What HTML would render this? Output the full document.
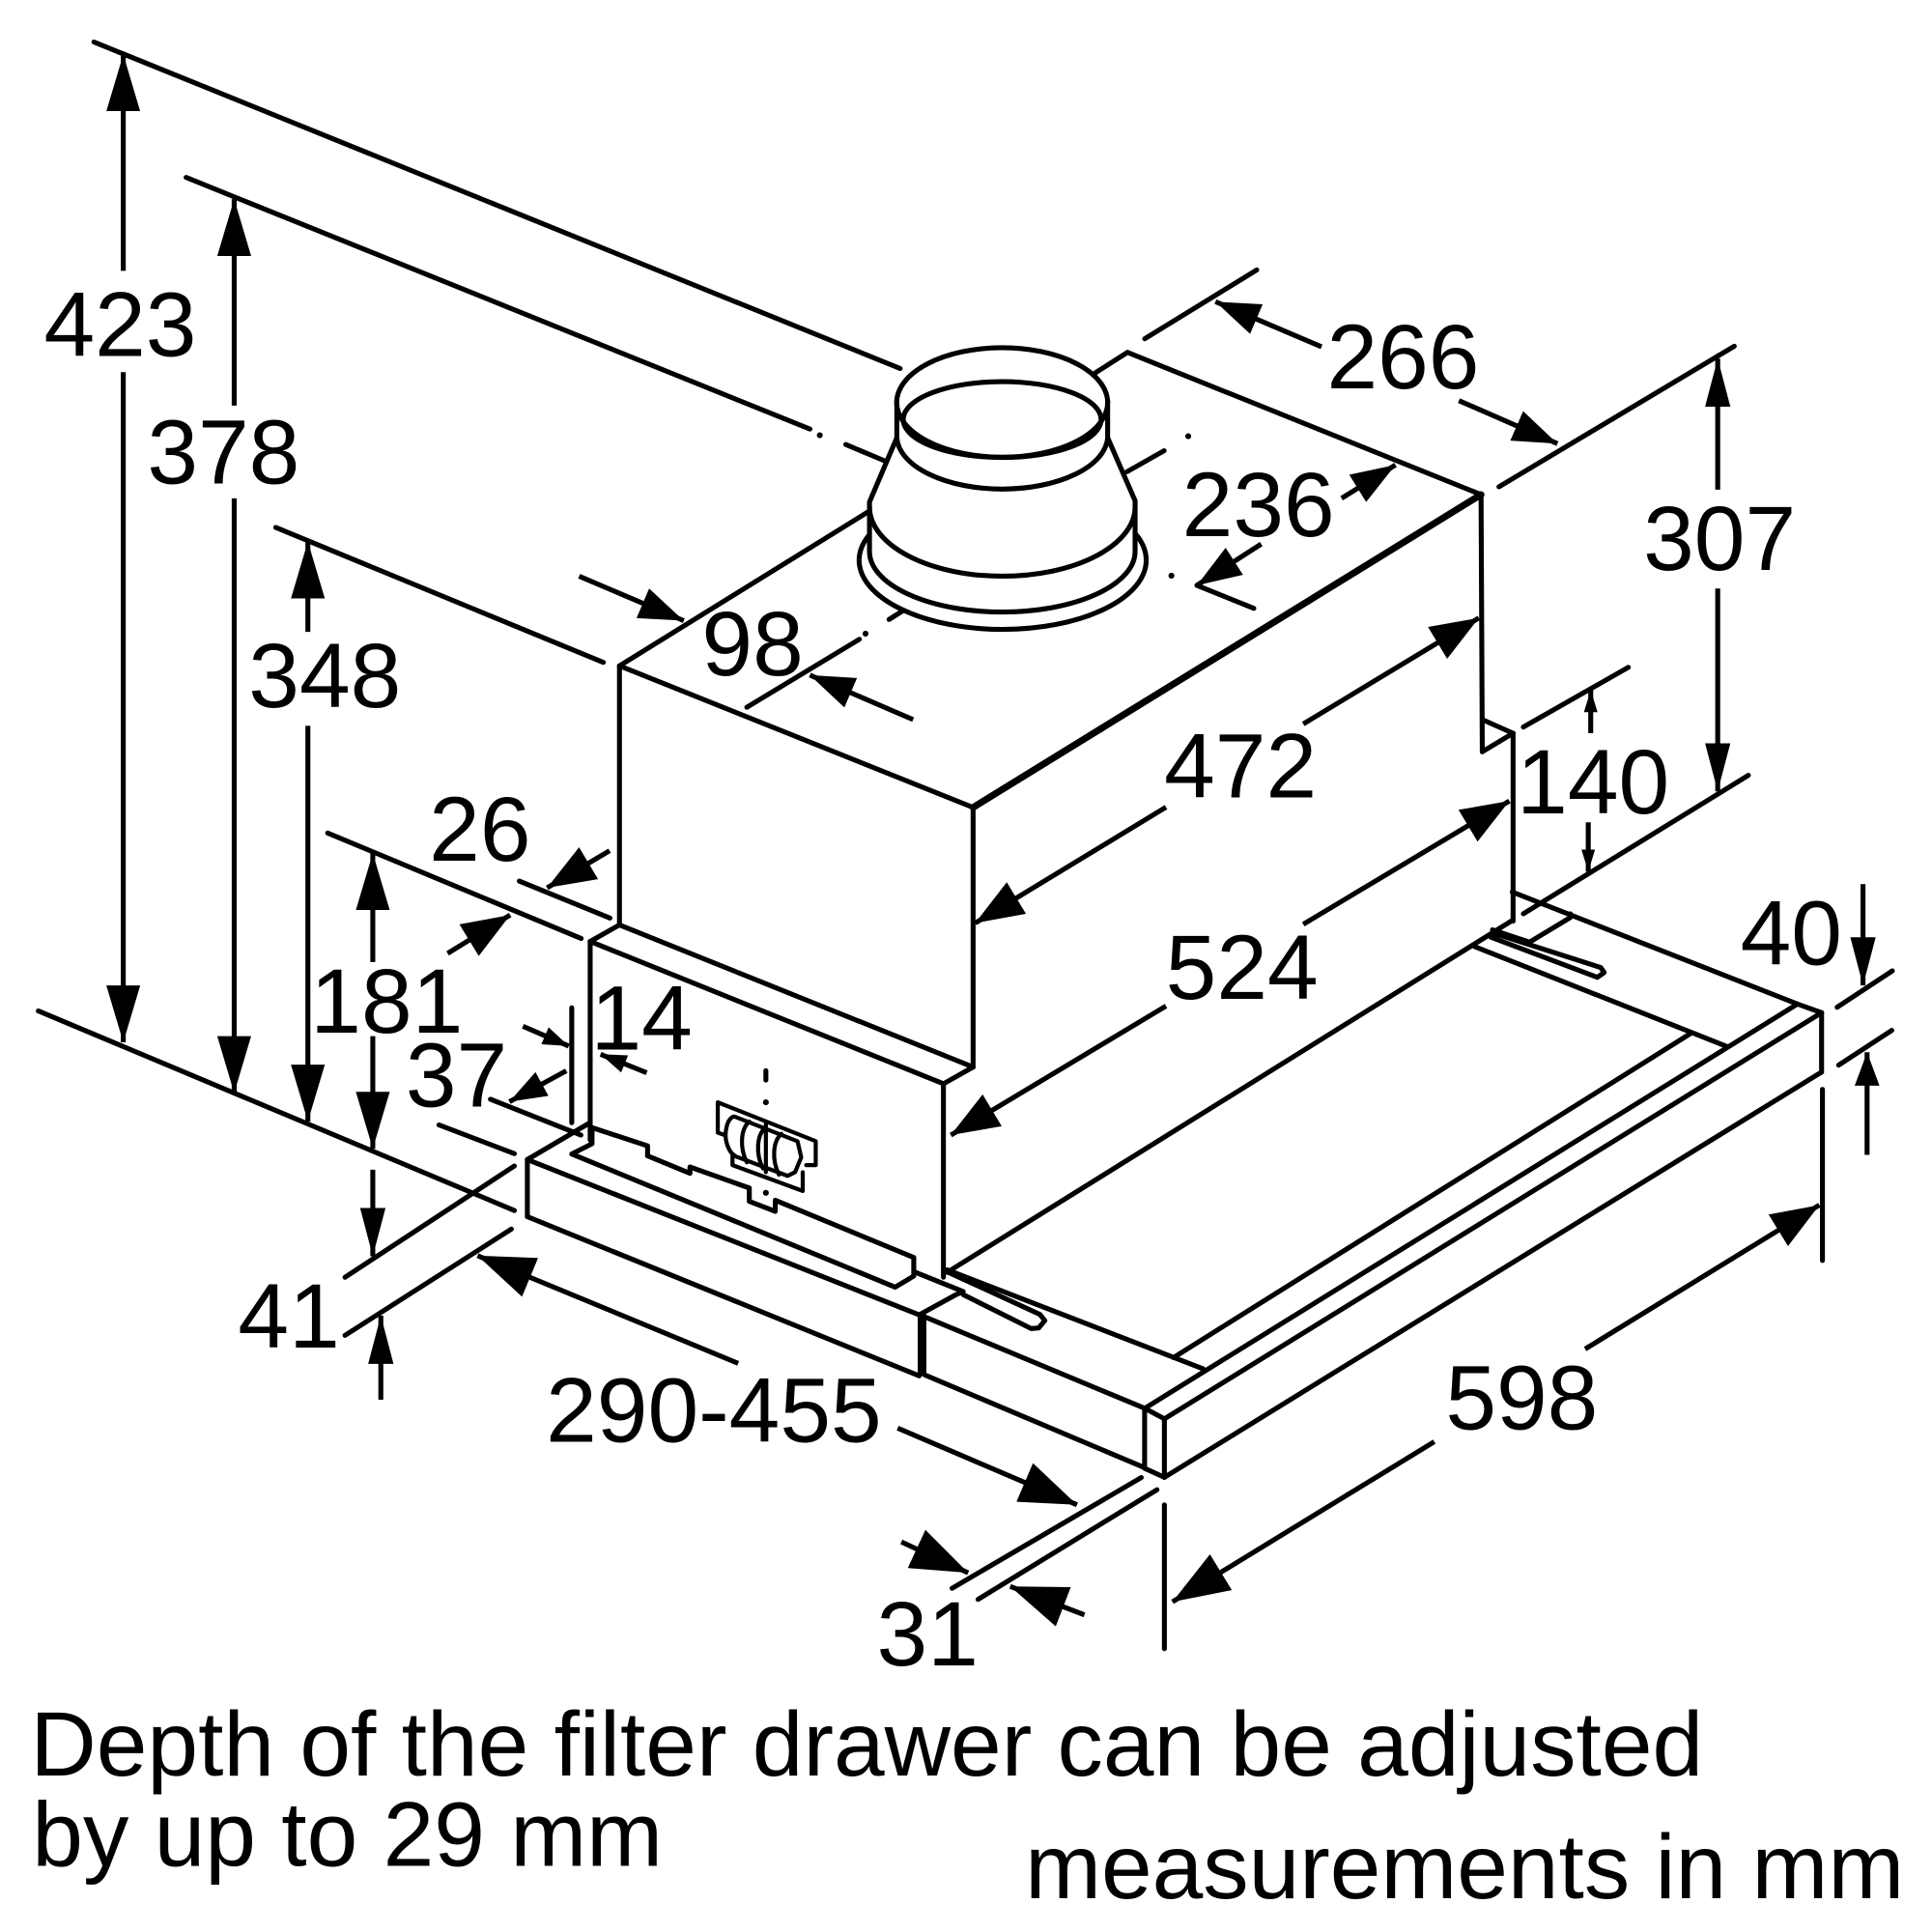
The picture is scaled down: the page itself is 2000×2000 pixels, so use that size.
<!DOCTYPE html>
<html>
<head>
<meta charset="utf-8">
<style>
html,body{margin:0;padding:0;background:#fff;}
svg{display:block;}
.l{stroke:#000;stroke-width:4;fill:none;stroke-linecap:round;stroke-linejoin:round;}
.a{stroke:#000;stroke-width:4;fill:none;stroke-linecap:butt;}
.t{font-family:"Liberation Sans",Arial,sans-serif;font-size:74px;fill:#000;}
</style>
</head>
<body>
<svg width="2000" height="2000" viewBox="0 0 1562.5 1562.5" xmlns="http://www.w3.org/2000/svg">
<defs>
<marker id="mA" markerUnits="userSpaceOnUse" markerWidth="46" markerHeight="27.4" refX="46" refY="13.7" orient="auto"><path d="M0,0 L46,13.7 L0,27.4 Z" fill="#000"/></marker>
<marker id="mB" markerUnits="userSpaceOnUse" markerWidth="39" markerHeight="30" refX="39" refY="15" orient="auto"><path d="M0,0 L39,15 L0,30 Z" fill="#000"/></marker>
<marker id="mC" markerUnits="userSpaceOnUse" markerWidth="39" markerHeight="20.5" refX="39" refY="10.25" orient="auto"><path d="M0,0 L39,10.25 L0,20.5 Z" fill="#000"/></marker>
<marker id="mD" markerUnits="userSpaceOnUse" markerWidth="36" markerHeight="26" refX="36" refY="13" orient="auto"><path d="M0,0 L36,13 L0,26 Z" fill="#000"/></marker>
<marker id="mS" markerUnits="userSpaceOnUse" markerWidth="21" markerHeight="15" refX="21" refY="7.5" orient="auto"><path d="M0,0 L21,7.5 L0,15 Z" fill="#000"/></marker>
<marker id="mT" markerUnits="userSpaceOnUse" markerWidth="18" markerHeight="11" refX="18" refY="5.5" orient="auto"><path d="M0,0 L18,5.5 L0,11 Z" fill="#000"/></marker>
<marker id="mE" markerUnits="userSpaceOnUse" markerWidth="30" markerHeight="22" refX="30" refY="11" orient="auto"><path d="M0,0 L30,11 L0,22 Z" fill="#000"/></marker>
<marker id="mF" markerUnits="userSpaceOnUse" markerWidth="27" markerHeight="20" refX="27" refY="10" orient="auto"><path d="M0,0 L27,10 L0,20 Z" fill="#000"/></marker>
<marker id="mG" markerUnits="userSpaceOnUse" markerWidth="46" markerHeight="34" refX="46" refY="17" orient="auto"><path d="M0,0 L46,17 L0,34 Z" fill="#000"/></marker>
</defs>

<!-- extension / reference lines (left) -->
<line class="l" x1="76" y1="34" x2="728" y2="298"/>
<line class="l" x1="150.5" y1="143.5" x2="655" y2="347"/>
<circle cx="663" cy="352" r="2.4" fill="#000"/>
<line class="l" x1="684" y1="359.5" x2="715" y2="372.5"/>
<line class="l" x1="223" y1="426.6" x2="488" y2="535.7"/>
<line class="l" x1="265" y1="673.7" x2="470" y2="759"/>
<line class="l" x1="420" y1="712.6" x2="493.3" y2="742.5"/>
<line class="l" x1="31" y1="817.6" x2="416" y2="979"/>
<line class="l" x1="355" y1="909.8" x2="416" y2="933"/>
<line class="l" x1="279" y1="1033" x2="416" y2="943"/>
<line class="l" x1="279" y1="1080" x2="413.6" y2="994"/>
<line class="l" x1="396.6" y1="889" x2="469.8" y2="918"/>
<line class="l" x1="462.4" y1="815" x2="462.4" y2="908"/>

<!-- centerlines of duct -->
<line class="l" x1="604" y1="572" x2="695" y2="517"/>
<circle cx="700" cy="512.5" r="2.4" fill="#000"/>
<line class="l" x1="719" y1="501" x2="743.5" y2="485.6"/>
<line class="l" x1="911.5" y1="381.5" x2="941.5" y2="364.5"/>
<circle cx="961" cy="352.8" r="2.4" fill="#000"/>
<circle cx="947.4" cy="465.6" r="2.4" fill="#000"/>
<line class="l" x1="968" y1="473.4" x2="1014" y2="492"/>

<!-- right side extension lines -->
<line class="l" x1="925.8" y1="274" x2="1016.4" y2="218.3"/>
<line class="l" x1="1212.3" y1="393.7" x2="1402.6" y2="280"/>
<line class="l" x1="1232" y1="588" x2="1316.9" y2="539.7"/>
<line class="l" x1="1232" y1="739" x2="1414" y2="627"/>
<line class="l" x1="1485.8" y1="814.6" x2="1530.4" y2="785.2"/>
<line class="l" x1="1487" y1="861.4" x2="1530" y2="833.3"/>
<line class="l" x1="1473.9" y1="881" x2="1473.9" y2="1019.4"/>
<line class="l" x1="941.7" y1="1217" x2="941.7" y2="1333.4"/>
<line class="l" x1="770" y1="1284.5" x2="923" y2="1195"/>
<line class="l" x1="791" y1="1293.5" x2="935.7" y2="1204.8"/>

<!-- upper box -->
<line class="l" x1="501" y1="538.5" x2="787" y2="653"/>
<line class="l" x1="501" y1="538.5" x2="702" y2="414"/>
<line class="l" x1="885.9" y1="301.5" x2="911.8" y2="285"/>
<line class="l" x1="911.8" y1="285" x2="1197.8" y2="400"/>
<line class="l" style="stroke-width:5.5" x1="1197.8" y1="400" x2="787" y2="653"/>
<line class="l" x1="501" y1="538.5" x2="501" y2="748"/>
<line class="l" x1="787" y1="653" x2="787" y2="863"/>
<line class="l" x1="1197.8" y1="400" x2="1198.8" y2="608"/>
<line class="l" x1="1198.8" y1="582" x2="1223.7" y2="593"/>
<line class="l" x1="1198.8" y1="608" x2="1223.7" y2="593"/>
<line class="l" x1="1223.7" y1="593" x2="1223.7" y2="745"/>

<!-- lower front body -->
<line class="l" x1="477.3" y1="761.4" x2="501" y2="748"/>
<line class="l" x1="501" y1="748" x2="787" y2="863"/>
<line class="l" x1="477.3" y1="761.4" x2="763" y2="876.5"/>
<line class="l" x1="763" y1="876.5" x2="787" y2="863"/>
<line class="l" x1="477.3" y1="761.4" x2="477.3" y2="922"/>
<line class="l" x1="763" y1="876.5" x2="763" y2="1033"/>

<!-- control panel -->
<line class="l" x1="619.4" y1="866" x2="619.4" y2="873.5"/>
<circle cx="619.4" cy="891.5" r="2.4" fill="#000"/>
<circle cx="619.4" cy="964.7" r="2.4" fill="#000"/>
<polyline class="l" style="stroke-width:3.3" points="586,918 580.5,916 580.5,891.5 659.7,922.9 659.7,942.3 652,942.3"/>
<polyline class="l" style="stroke-width:3.3" points="592.4,933.3 592.4,942.3 649.2,963.2 649.2,948"/>
<path class="l" style="stroke-width:3.3" d="M594,903 L645,923 L648,936 L643,948 L637,951 L597,936 C590,934 586,924 587,915 C588,907 591,903 594,903 Z"/>
<path class="l" style="stroke-width:3.3" d="M606,907 C599,913 598,928 604,940"/>
<path class="l" style="stroke-width:3.3" d="M619,912 C612,918 611,933 617,945"/>
<path class="l" style="stroke-width:3.3" d="M632,917 C625,923 624,938 630,950"/>
<line class="l" style="stroke-width:3.3" x1="619.4" y1="909" x2="619.4" y2="948"/>

<!-- drawer left section -->
<line class="l" x1="426.5" y1="937.8" x2="475.8" y2="908.8"/>
<line class="l" x1="426.5" y1="937.8" x2="743.4" y2="1063.4"/>
<line class="l" x1="426.5" y1="937.8" x2="426.5" y2="984"/>
<line class="l" x1="426.5" y1="984" x2="743.4" y2="1112.7"/>
<line x1="745.7" y1="1063" x2="745.7" y2="1113" stroke="#000" stroke-width="7"/>
<polyline class="l" points="478.8,912 523.7,926.7 523.7,934.8 558,948.9 558,943.8 606,960.8 606,971.6 627,979.7 627,970.7 739,1017 739,1032 724,1041 462.4,933.3 478.8,925 478.8,912"/>
<polyline class="l" points="743.4,1063.4 773.3,1047 779,1044.5 740.4,1029"/>
<line class="l" x1="748" y1="1065" x2="925.8" y2="1139"/>
<line class="l" x1="748" y1="1112" x2="925.7" y2="1187"/>
<polyline class="l" points="767,1029 841,1063 845,1068 840,1074 834,1074.5 779,1047"/>

<!-- main body top / drawer surface -->
<line class="l" x1="766" y1="1029" x2="1223.7" y2="744"/>
<line class="l" x1="766" y1="1027" x2="973" y2="1107"/>
<line class="l" x1="1192.8" y1="765.6" x2="1396.5" y2="846.3"/>
<line class="l" x1="949" y1="1098" x2="1367" y2="836"/>
<line class="l" x1="1223" y1="721.4" x2="1453.7" y2="812"/>
<polyline class="l" points="1207,752 1237,762 1270,742 1270,739"/>
<polygon class="l" points="1208,754.7 1294.6,782.5 1297.4,786.5 1291.8,790.4 1205.4,757.8"/>

<!-- front bar -->
<line class="l" x1="925.8" y1="1139" x2="1453.7" y2="812"/>
<line class="l" x1="941.7" y1="1147.5" x2="1473.2" y2="819"/>
<line class="l" x1="1453.7" y1="812" x2="1473.2" y2="819"/>
<line class="l" x1="925.8" y1="1139" x2="941.7" y2="1147.5"/>
<line class="l" x1="941.7" y1="1147.5" x2="941.7" y2="1194.8"/>
<line class="l" x1="925.7" y1="1139" x2="925.7" y2="1187.5"/>
<line class="l" x1="925.7" y1="1187.5" x2="941.7" y2="1194.8"/>
<line class="l" x1="1473.2" y1="819" x2="1473.2" y2="867"/>
<line class="l" x1="941.7" y1="1194.8" x2="1473.2" y2="867"/>

<!-- duct -->
<g fill="#fff" stroke="#000" stroke-width="4">
<path d="M694.8,453 A116,56 0 0,0 927,453"/>
<path d="M918,431.4 A116,56 0 0,1 927,453" fill="none"/>
<path d="M703.2,432.3 A116,56 0 0,0 694.8,453" fill="none"/>
<path d="M725.3,354 L703.2,406 L703.2,446 A107.4,49 0 0,0 918,446 L918,405 L895.8,354 Z"/>
<path d="M703.2,410 A107.4,56 0 0,0 918,410" fill="none"/>
<path d="M725.3,325.5 L725.3,354 A85.3,43 0 0,0 895.8,354 L895.8,325.5 Z"/>
<ellipse cx="810.5" cy="325.5" rx="85.3" ry="44.3"/>
<ellipse cx="810.5" cy="339.3" rx="80" ry="30.7" fill="none"/>
</g>

<!-- dimension arrows -->
<line class="a" x1="99.7" y1="219" x2="99.7" y2="44" marker-end="url(#mA)"/>
<line class="a" x1="99.7" y1="301" x2="99.7" y2="843" marker-end="url(#mA)"/>
<line class="a" x1="189.4" y1="328" x2="189.4" y2="161" marker-end="url(#mA)"/>
<line class="a" x1="189.4" y1="403" x2="189.4" y2="884" marker-end="url(#mA)"/>
<line class="a" x1="249" y1="511" x2="249" y2="438" marker-end="url(#mA)"/>
<line class="a" x1="249" y1="587" x2="249" y2="907" marker-end="url(#mA)"/>
<line class="a" x1="301.5" y1="778" x2="301.5" y2="690" marker-end="url(#mA)"/>
<line class="a" x1="301.5" y1="838" x2="301.5" y2="929" marker-end="url(#mA)"/>
<line class="a" x1="301.5" y1="946" x2="301.5" y2="1016" marker-end="url(#mC)"/>
<line class="a" x1="308" y1="1132" x2="308" y2="1064" marker-end="url(#mC)"/>
<line class="a" x1="493" y1="688" x2="442.5" y2="718" marker-end="url(#mB)"/>
<line class="a" x1="362" y1="771" x2="412.6" y2="740" marker-end="url(#mB)"/>
<line class="a" x1="422.9" y1="830" x2="460" y2="846" marker-end="url(#mS)"/>
<line class="a" x1="523" y1="867.6" x2="485.7" y2="852.6" marker-end="url(#mS)"/>
<line class="a" x1="458" y1="866" x2="412" y2="891" marker-end="url(#mE)"/>
<line class="a" x1="468.4" y1="466" x2="553" y2="502" marker-end="url(#mD)"/>
<line class="a" x1="738.5" y1="582" x2="655" y2="546" marker-end="url(#mD)"/>
<line class="a" x1="1068.8" y1="280.5" x2="983" y2="244" marker-end="url(#mD)"/>
<line class="a" x1="1179.9" y1="324" x2="1259.6" y2="358.8" marker-end="url(#mD)"/>
<line class="a" x1="1085" y1="403" x2="1128.6" y2="376" marker-end="url(#mD)"/>
<line class="a" x1="1020" y1="440" x2="968" y2="473.4" marker-end="url(#mD)"/>
<line class="a" x1="1054" y1="585.5" x2="1196" y2="499.8" marker-end="url(#mB)"/>
<line class="a" x1="943" y1="652.8" x2="788.7" y2="746.5" marker-end="url(#mB)"/>
<line class="a" x1="1054" y1="747.5" x2="1220.7" y2="647.8" marker-end="url(#mB)"/>
<line class="a" x1="943" y1="813.6" x2="769" y2="918" marker-end="url(#mB)"/>
<line class="a" x1="1389.2" y1="396" x2="1389.2" y2="290" marker-end="url(#mC)"/>
<line class="a" x1="1389.2" y1="476" x2="1389.2" y2="640" marker-end="url(#mC)"/>
<line class="a" x1="1286.5" y1="593" x2="1286.5" y2="558" marker-end="url(#mT)"/>
<line class="a" x1="1284.5" y1="665" x2="1284.5" y2="705" marker-end="url(#mT)"/>
<line class="a" x1="1506.7" y1="715" x2="1506.7" y2="797" marker-end="url(#mC)"/>
<line class="a" x1="1510" y1="934" x2="1510" y2="851" marker-end="url(#mF)"/>
<line class="a" x1="1282" y1="1091" x2="1471.4" y2="974.6" marker-end="url(#mB)"/>
<line class="a" x1="1160" y1="1166" x2="948.2" y2="1295.5" marker-end="url(#mG)"/>
<line class="a" x1="729" y1="1247" x2="783" y2="1272" marker-end="url(#mG)"/>
<line class="a" x1="877" y1="1306" x2="817" y2="1283" marker-end="url(#mG)"/>
<line class="a" x1="597" y1="1102.6" x2="386.2" y2="1015.5" marker-end="url(#mG)"/>
<line class="a" x1="726" y1="1155" x2="871" y2="1217" marker-end="url(#mG)"/>

<!-- labels -->
<text class="t" x="35.5" y="288">423</text>
<text class="t" x="119" y="391">378</text>
<text class="t" x="201" y="572">348</text>
<text class="t" x="347" y="696">26</text>
<text class="t" x="567.5" y="546">98</text>
<text class="t" x="251" y="835">181</text>
<text class="t" x="328" y="895">37</text>
<text class="t" x="477.7" y="849">14</text>
<text class="t" x="192.5" y="1090">41</text>
<text class="t" x="441.5" y="1166">290-455</text>
<text class="t" x="709" y="1347">31</text>
<text class="t" x="1169" y="1156">598</text>
<text class="t" x="942.7" y="808">524</text>
<text class="t" x="941.5" y="645">472</text>
<text class="t" x="1226.7" y="658">140</text>
<text class="t" x="1329" y="461">307</text>
<text class="t" x="956" y="433.5">236</text>
<text class="t" x="1073" y="314">266</text>
<text class="t" x="1407.5" y="780">40</text>

<text class="t" x="24.5" y="1436" textLength="1353" lengthAdjust="spacingAndGlyphs">Depth of the filter drawer can be adjusted</text>
<text class="t" x="26" y="1509" textLength="510" lengthAdjust="spacingAndGlyphs">by up to 29 mm</text>
<text class="t" x="829" y="1535" textLength="711" lengthAdjust="spacingAndGlyphs">measurements in mm</text>
</svg>
</body>
</html>
